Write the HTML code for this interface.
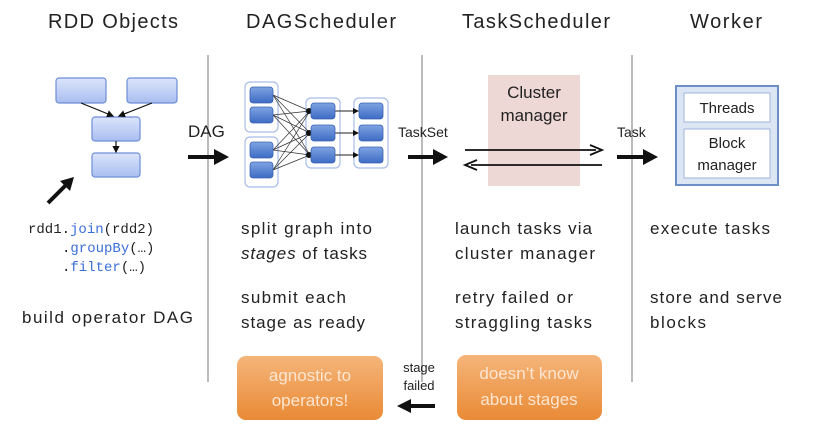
<!DOCTYPE html>
<html><head><meta charset="utf-8"><style>
html,body{margin:0;padding:0;background:#fff;}
svg{display:block;}
text{font-family:"Liberation Sans",sans-serif;fill:#222;}
.h{font-size:20px;}
.b{font-size:17px;}
.c{font-family:"Liberation Mono",monospace;font-size:14px;}
.k{fill:#3a6fd8;}
</style></head><body>
<svg width="830" height="434" viewBox="0 0 830 434" xmlns="http://www.w3.org/2000/svg">
<defs>
<linearGradient id="bx" x1="0" y1="0" x2="0" y2="1"><stop offset="0" stop-color="#dbe4fb"/><stop offset="1" stop-color="#a9bef0"/></linearGradient>
<linearGradient id="bd" x1="0" y1="0" x2="0" y2="1"><stop offset="0" stop-color="#7fa3e3"/><stop offset="1" stop-color="#3e6cc4"/></linearGradient>
<linearGradient id="or" x1="0" y1="0" x2="0" y2="1"><stop offset="0" stop-color="#f5b57a"/><stop offset="1" stop-color="#e98a35"/></linearGradient>
<marker id="a" markerWidth="6" markerHeight="6" refX="5" refY="3" orient="auto"><path d="M0,0 L6,3 L0,6z" fill="#111"/></marker>
</defs>
<!-- headings -->
<text class="h" x="48" y="28" textLength="130">RDD Objects</text>
<text class="h" x="246" y="28" textLength="150">DAGScheduler</text>
<text class="h" x="462" y="28" textLength="148">TaskScheduler</text>
<text class="h" x="690" y="28" textLength="72">Worker</text>
<!-- separators -->
<g stroke="#bbb" stroke-width="2">
<line x1="208" y1="55" x2="208" y2="382"/>
<line x1="422" y1="55" x2="422" y2="382"/>
<line x1="632" y1="55" x2="632" y2="382"/>
</g>
<!-- RDD DAG -->
<g fill="url(#bx)" stroke="#6d8ed6" stroke-width="1.2">
<rect x="56" y="78" width="50" height="25" rx="3"/>
<rect x="127" y="78" width="50" height="25" rx="3"/>
<rect x="92" y="117" width="48" height="24" rx="3"/>
<rect x="92" y="153" width="48" height="24" rx="3"/>
</g>
<g stroke="#111" stroke-width="1.2" marker-end="url(#a)">
<line x1="81" y1="103" x2="113" y2="116"/>
<line x1="152" y1="103" x2="119" y2="116"/>
<line x1="116" y1="141" x2="116" y2="152"/>
</g>
<line x1="48" y1="203" x2="68" y2="183" stroke="#111" stroke-width="4"/>
<path d="M74,177 L60,181 L70,191z" fill="#111"/>
<!-- code -->
<text class="c" x="28" y="233">rdd1.<tspan class="k">join</tspan>(rdd2)</text>
<text class="c" x="62" y="252">.<tspan class="k">groupBy</tspan>(…)</text>
<text class="c" x="62" y="271">.<tspan class="k">filter</tspan>(…)</text>
<text class="b" x="22" y="323" textLength="171">build operator DAG</text>
<!-- DAG arrow -->
<text class="b" x="188" y="137" font-size="15">DAG</text>
<line x1="188" y1="157" x2="216" y2="157" stroke="#111" stroke-width="4"/>
<path d="M214,149 L229,157 L214,165z" fill="#111"/>
<!-- DAGScheduler graph -->
<g fill="#fff" stroke="#a8bde6" stroke-width="1.2">
<rect x="245" y="82" width="33" height="50" rx="5"/>
<rect x="245" y="137" width="33" height="50" rx="5"/>
<rect x="306" y="98" width="34" height="70" rx="5"/>
<rect x="354" y="98" width="34" height="70" rx="5"/>
</g>
<g stroke="#333" stroke-width="0.7">
<line x1="273" y1="95" x2="310" y2="111"/><line x1="273" y1="95" x2="310" y2="133"/><line x1="273" y1="95" x2="310" y2="155"/>
<line x1="273" y1="115" x2="310" y2="111"/><line x1="273" y1="115" x2="310" y2="133"/><line x1="273" y1="115" x2="310" y2="155"/>
<line x1="273" y1="150" x2="310" y2="111"/><line x1="273" y1="150" x2="310" y2="133"/><line x1="273" y1="150" x2="310" y2="155"/>
<line x1="273" y1="170" x2="310" y2="111"/><line x1="273" y1="170" x2="310" y2="133"/><line x1="273" y1="170" x2="310" y2="155"/>
</g>
<g fill="#111"><circle cx="309" cy="111" r="3"/><circle cx="309" cy="133" r="3"/><circle cx="309" cy="155" r="3"/></g>
<g stroke="#222" stroke-width="1" marker-end="url(#a)">
<line x1="334" y1="111" x2="358" y2="111"/><line x1="334" y1="133" x2="358" y2="133"/><line x1="334" y1="155" x2="358" y2="155"/>
</g>
<g fill="url(#bd)" stroke="#3a62b0" stroke-width="0.8">
<rect x="250" y="87" width="23" height="16" rx="3"/><rect x="250" y="107" width="23" height="16" rx="3"/>
<rect x="250" y="142" width="23" height="16" rx="3"/><rect x="250" y="162" width="23" height="16" rx="3"/>
<rect x="311" y="103" width="24" height="16" rx="3"/><rect x="311" y="125" width="24" height="16" rx="3"/><rect x="311" y="147" width="24" height="16" rx="3"/>
<rect x="359" y="103" width="24" height="16" rx="3"/><rect x="359" y="125" width="24" height="16" rx="3"/><rect x="359" y="147" width="24" height="16" rx="3"/>
</g>
<!-- TaskSet -->
<text x="398" y="137" font-size="14">TaskSet</text>
<line x1="408" y1="157" x2="435" y2="157" stroke="#111" stroke-width="4"/>
<path d="M433,149 L448,157 L433,165z" fill="#111"/>
<rect x="488" y="75" width="92" height="111" fill="#eed8d6"/>
<text class="b" x="534" y="98" text-anchor="middle">Cluster</text>
<text class="b" x="534" y="121" text-anchor="middle">manager</text>
<line x1="465" y1="150" x2="596" y2="150" stroke="#111" stroke-width="1.8"/>
<path d="M590,145 L602,150 L590,155" fill="none" stroke="#111" stroke-width="1.8"/>
<line x1="471" y1="165" x2="602" y2="165" stroke="#111" stroke-width="1.8"/>
<path d="M477,160 L465,165 L477,170" fill="none" stroke="#111" stroke-width="1.8"/>
<!-- Task -->
<text x="617" y="137" font-size="14">Task</text>
<line x1="617" y1="157" x2="645" y2="157" stroke="#111" stroke-width="4"/>
<path d="M643,149 L658,157 L643,165z" fill="#111"/>
<rect x="676" y="86" width="102" height="99" fill="#dbe5f3" stroke="#6d8fc7" stroke-width="2"/>
<rect x="684" y="93" width="86" height="29" fill="#fff" stroke="#9fb5dd"/>
<rect x="684" y="129" width="86" height="49" fill="#fff" stroke="#9fb5dd"/>
<text x="727" y="113" font-size="15" text-anchor="middle">Threads</text>
<text x="727" y="148" font-size="15" text-anchor="middle">Block</text>
<text x="727" y="170" font-size="15" text-anchor="middle">manager</text>
<!-- body text -->
<text class="b" x="241" y="234" textLength="131">split graph into</text>
<text class="b" x="241" y="259" textLength="126"><tspan font-style="italic">stages</tspan> of tasks</text>
<text class="b" x="241" y="303" textLength="105">submit each</text>
<text class="b" x="241" y="328" textLength="124">stage as ready</text>
<text class="b" x="455" y="234" textLength="137">launch tasks via</text>
<text class="b" x="455" y="259" textLength="140">cluster manager</text>
<text class="b" x="455" y="303" textLength="118">retry failed or</text>
<text class="b" x="455" y="328" textLength="137">straggling tasks</text>
<text class="b" x="650" y="234" textLength="120">execute tasks</text>
<text class="b" x="650" y="303" textLength="132">store and serve</text>
<text class="b" x="650" y="328" textLength="56">blocks</text>
<!-- orange boxes -->
<rect x="237" y="356" width="146" height="64" rx="9" fill="url(#or)"/>
<text class="b" x="310" y="381" text-anchor="middle" fill="#fbe6d2" style="fill:#fbe6d2">agnostic to</text>
<text class="b" x="310" y="406" text-anchor="middle" style="fill:#fbe6d2">operators!</text>
<rect x="457" y="355" width="145" height="65" rx="9" fill="url(#or)"/>
<text class="b" x="529" y="379" text-anchor="middle" style="fill:#fbe6d2">doesn’t know</text>
<text class="b" x="529" y="405" text-anchor="middle" style="fill:#fbe6d2">about stages</text>
<text x="419" y="372" font-size="13" text-anchor="middle">stage</text>
<text x="419" y="390" font-size="13" text-anchor="middle">failed</text>
<line x1="410" y1="406" x2="435" y2="406" stroke="#111" stroke-width="4"/>
<path d="M411,399 L397,406 L411,413z" fill="#111"/>
</svg>
</body></html>
